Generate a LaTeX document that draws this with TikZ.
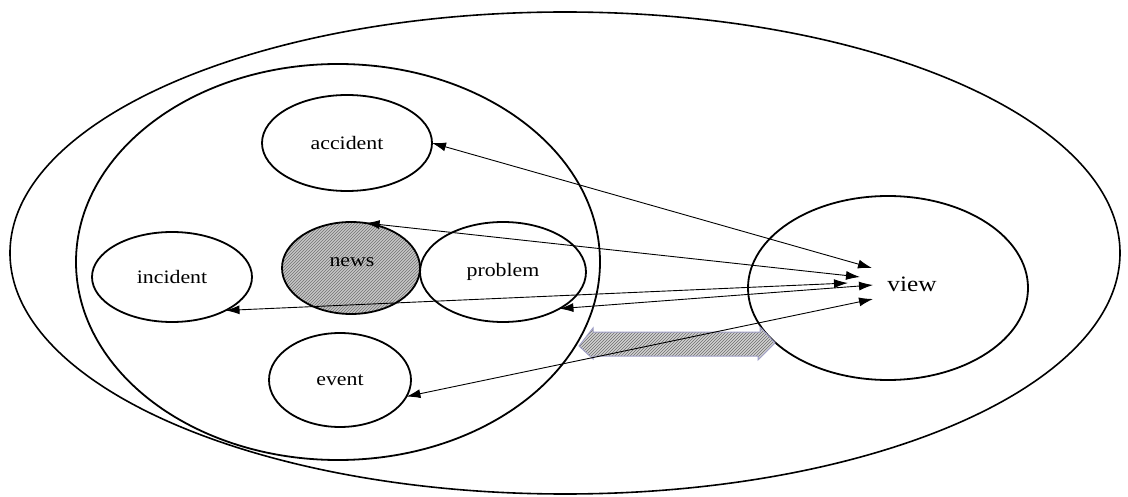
\documentclass[tikz,border=0pt]{standalone}
\usepackage{fontspec}
\setmainfont{Liberation Serif}
\usetikzlibrary{shapes.geometric,arrows.meta,patterns}
\newcommand{\wide}[1]{\scalebox{1.15}[1]{#1}}
\begin{document}
\begin{tikzpicture}[x=1pt,y=-1pt,
  ring/.style={draw,ellipse,line width=1.8pt,inner sep=0pt,outer sep=0pt},
  lbl/.style={font=\fontsize{19}{19}\selectfont},
  link/.style={line width=0.9pt,{Latex[length=14pt,width=9pt]}-{Latex[length=14pt,width=9pt]}}]
\useasboundingbox (0,0) rectangle (1128,497);
\node[ring,line width=1.6pt,minimum width=1110pt,minimum height=482pt] (outer) at (565,253) {};
\node[ring,minimum width=524pt,minimum height=396pt] (inner) at (338,262) {};
\node[ring,minimum width=170pt,minimum height=96pt,lbl] (accident) at (347,143) {\wide{accident}};
\node[ring,minimum width=160pt,minimum height=90pt,lbl] (incident) at (172,277) {\wide{incident}};
\node[ring,minimum width=138pt,minimum height=92pt,preaction={fill=gray!45},pattern=north east lines,pattern color=gray!90!black] (news) at (351,268) {};
\node[lbl] (newslabel) at (352,262) {\wide{news}};
\node[ring,minimum width=166pt,minimum height=100pt,lbl] (problem) at (503,272) {\wide{problem}};
\node[ring,minimum width=142pt,minimum height=94pt,lbl] (event) at (340,380) {\wide{event}};
\node[ring,minimum width=280pt,minimum height=184pt] (view) at (888,288) {};
\node[font=\fontsize{22}{22}\selectfont] (viewlabel) at (912,284) {\wide{view}};
% hatched double block arrow
\draw[draw=blue!25!gray!60,line width=1pt,preaction={fill=gray!35},pattern=north east lines,pattern color=gray!85!black]
  (579,346) -- (593,328) -- (593,332) -- (760,332) -- (760,327) -- (775,343)
  -- (758,360) -- (758,356) -- (593,356) -- (593,359) -- cycle;
\coordinate (v1) at (872,268);
\coordinate (v2) at (860,277);
\coordinate (v3) at (848,283);
\coordinate (v4) at (873,285);
\coordinate (v5) at (873,299);
\draw[link] (accident.0) -- (v1);
\draw[link] (news.72) -- (v2);
\draw[link] (incident.-32) -- (v3);
\draw[link] (problem.-33) -- (v4);
\draw[link] (event.-14) -- (v5);
\end{tikzpicture}
\end{document}
